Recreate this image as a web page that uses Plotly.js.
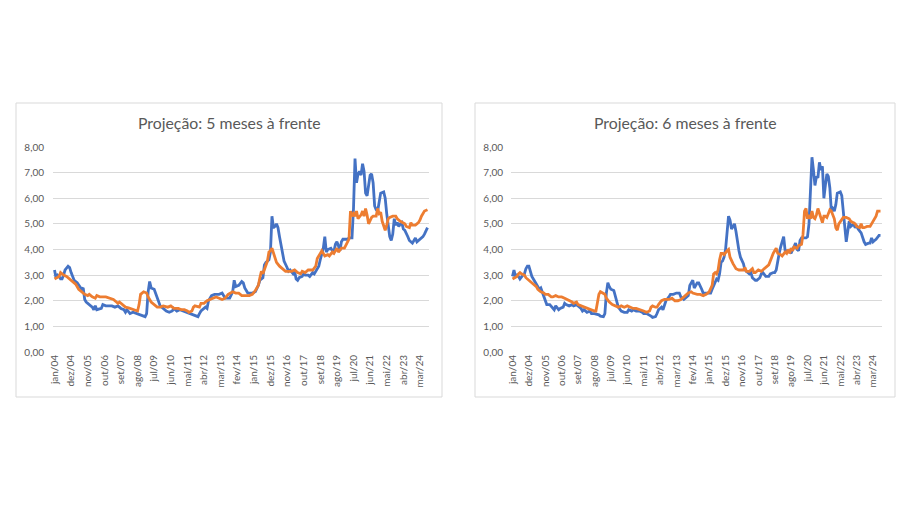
<!DOCTYPE html>
<html>
<head>
<meta charset="utf-8">
<script src="https://cdn.plot.ly/plotly-3.0.1.min.js"></script>
<style>html,body{margin:0;padding:0;background:#fff;}#chart{width:906px;height:509px;}</style>
</head>
<body>
<div id="chart"></div>
<script>
// Month index: 0 = jan/04
const tickMonths = [0,11,22,33,44,55,66,77,88,99,110,121,132,143,154,165,176,187,198,209,220,231,242];
const tickLabels = ["jan/04","dez/04","nov/05","out/06","set/07","ago/08","jul/09","jun/10","mai/11","abr/12","mar/13","fev/14","jan/15","dez/15","nov/16","out/17","set/18","ago/19","jul/20","jun/21","mai/22","abr/23","mar/24"];

// Painel 1: Projeção 5 meses à frente — série azul
const azul5_mes = [0,1,2,3,4,5,6,7,9,10,11,13,15,17,18,19,20,21,23,25,26,27,28,31,32,34,38,40,42,44,46,47,48,50,52,54,56,58,60,61,62,63,64,66,67,69,70,72,74,76,78,79,81,83,85,87,89,91,93,95,96,97,99,100,101,102,104,106,109,111,113,116,118,119,120,122,124,125,126,128,131,133,135,136,138,139,140,142,143,144,145,146,147,148,149,150,151,152,154,155,156,157,158,159,160,161,162,164,165,166,168,169,170,171,172,173,174,175,176,177,178,179,180,181,183,184,185,186,187,188,189,190,191,194,195,197,198,199,200,201,202,203,204,205,206,207,208,209,210,211,212,213,214,215,216,218,219,220,221,222,223,224,225,226,227,228,229,230,231,232,234,235,237,238,239,240,242,244,245,247];
const azul5_val = [3.2,2.9,3.0,2.95,2.85,2.85,3.0,3.2,3.35,3.3,3.1,2.8,2.7,2.5,2.45,2.5,2.05,1.95,1.85,1.75,1.65,1.8,1.65,1.7,1.85,1.8,1.8,1.75,1.8,1.7,1.65,1.55,1.65,1.5,1.55,1.5,1.45,1.4,1.38,1.5,2.35,2.75,2.5,2.45,2.3,1.95,1.8,1.7,1.6,1.55,1.6,1.7,1.6,1.65,1.6,1.55,1.5,1.45,1.42,1.38,1.5,1.6,1.7,1.75,1.7,2.0,2.2,2.25,2.25,2.3,2.1,2.1,2.35,2.8,2.55,2.6,2.75,2.7,2.5,2.3,2.3,2.35,2.6,2.8,2.9,3.4,3.5,3.6,3.9,5.3,4.85,4.9,5.0,4.85,4.5,4.2,3.8,3.55,3.3,3.15,3.2,3.1,3.05,3.15,2.85,2.8,2.9,2.95,3.05,3.0,3.0,2.95,3.05,3.1,3.05,3.15,3.2,3.35,3.6,3.85,4.05,4.5,3.9,4.0,4.05,3.95,3.9,4.2,4.3,4.15,3.95,4.3,4.4,4.4,4.45,4.45,5.6,7.55,6.6,6.95,7.05,6.9,7.35,7.05,6.2,6.1,6.5,6.9,6.95,6.6,5.7,5.55,5.5,5.8,6.2,6.25,6.0,5.4,4.85,4.5,4.35,4.6,5.2,4.95,5.05,4.9,5.0,5.05,4.8,4.75,4.5,4.35,4.25,4.35,4.45,4.3,4.4,4.5,4.6,4.85];

// Painel 1: série laranja
const laranja5_mes = [0,2,3,4,6,8,10,12,14,16,18,20,22,23,25,27,28,30,34,36,39,41,42,43,45,47,49,52,54,55,56,57,58,59,61,62,64,66,68,70,72,75,77,79,82,84,86,88,89,91,92,93,96,97,99,101,103,105,107,109,111,113,115,118,120,122,124,129,131,133,135,136,137,138,139,140,141,142,143,144,145,146,147,149,151,153,157,159,161,163,164,166,168,171,173,174,176,177,179,181,182,184,185,187,188,190,192,193,195,196,197,198,199,200,201,203,204,205,206,207,208,210,211,213,214,215,216,217,219,220,221,222,224,226,227,229,231,232,233,235,236,237,239,241,242,243,245,247];
const laranja5_val = [2.85,2.9,2.95,3.1,3.0,2.95,2.85,2.75,2.65,2.45,2.35,2.25,2.2,2.25,2.15,2.1,2.2,2.15,2.15,2.1,2.05,1.95,1.9,1.95,1.85,1.75,1.72,1.65,1.6,1.6,1.85,2.25,2.3,2.35,2.3,2.15,1.95,1.85,1.75,1.75,1.8,1.75,1.8,1.7,1.7,1.65,1.65,1.6,1.55,1.6,1.75,1.8,1.75,1.9,1.9,2.0,2.05,2.1,2.15,2.1,2.05,2.1,2.25,2.35,2.3,2.3,2.2,2.2,2.25,2.4,2.6,2.9,3.15,3.05,3.25,3.4,3.55,3.9,3.95,4.05,3.85,3.6,3.5,3.35,3.25,3.15,3.15,3.2,3.1,3.05,3.15,3.1,3.2,3.2,3.35,3.65,3.85,3.95,3.75,3.8,3.75,3.9,3.85,4.05,3.9,4.05,4.05,4.15,4.4,5.5,5.3,5.4,5.3,5.5,5.2,5.35,5.5,5.3,5.6,5.35,5.0,5.25,5.3,5.3,5.6,5.4,5.45,5.1,4.75,4.95,5.2,5.25,5.3,5.3,5.2,5.1,5.05,5.0,4.9,4.85,5.05,4.95,4.95,5.05,5.15,5.3,5.5,5.55];

// Painel 2: Projeção 6 meses à frente — série azul
const azul6_mes = [0,1,2,3,4,5,7,8,9,10,11,12,13,15,16,17,18,19,21,22,23,25,27,28,29,31,32,34,35,36,38,40,41,43,44,46,47,48,50,52,53,55,58,59,61,62,63,64,65,66,68,69,70,71,73,75,77,78,80,81,83,85,87,88,90,92,93,94,96,97,98,99,100,101,102,103,105,106,108,110,112,113,115,116,118,119,121,122,123,124,125,126,127,128,131,133,134,135,136,137,138,139,140,141,142,143,145,146,147,148,149,150,151,152,153,155,156,158,159,160,161,163,164,166,167,168,170,172,173,175,176,177,178,179,180,182,183,184,185,187,188,190,191,192,193,194,197,198,199,200,201,202,203,204,205,206,207,208,209,210,211,212,213,214,215,216,217,218,220,221,222,223,224,225,226,227,229,230,231,232,233,234,236,237,239,240,241,242,243,244,246,247];
const azul6_val = [2.95,3.2,2.95,3.0,2.95,2.85,3.0,3.05,3.25,3.35,3.35,3.1,2.95,2.75,2.65,2.5,2.45,2.5,2.15,1.95,1.85,1.85,1.7,1.65,1.8,1.65,1.7,1.75,1.9,1.85,1.8,1.85,1.8,1.85,1.8,1.7,1.6,1.65,1.55,1.6,1.5,1.5,1.45,1.4,1.38,1.5,2.3,2.7,2.55,2.45,2.4,2.2,1.9,1.75,1.6,1.55,1.55,1.65,1.6,1.65,1.6,1.6,1.55,1.5,1.5,1.45,1.4,1.35,1.38,1.5,1.65,1.7,1.75,1.65,1.8,2.0,2.15,2.25,2.25,2.3,2.3,2.15,2.05,2.1,2.2,2.6,2.8,2.5,2.6,2.7,2.7,2.6,2.45,2.3,2.3,2.3,2.45,2.6,2.75,2.85,2.8,3.05,3.5,3.55,3.7,4.0,5.3,5.15,4.8,4.9,5.0,4.7,4.2,3.95,3.7,3.45,3.2,3.1,3.05,3.1,2.9,2.8,2.8,2.9,3.05,3.1,2.95,2.95,3.05,3.1,3.1,3.2,3.6,3.85,4.1,4.5,3.95,3.85,4.0,3.85,4.0,4.25,4.0,3.95,4.35,4.45,4.45,4.5,5.0,6.4,7.6,7.1,6.5,6.85,6.8,7.4,7.1,7.25,6.0,6.5,6.95,6.85,6.4,5.5,5.6,5.5,5.75,6.2,6.25,6.1,5.6,4.9,4.3,4.7,5.1,4.9,5.0,4.85,4.95,4.8,4.7,4.65,4.3,4.2,4.25,4.25,4.45,4.3,4.35,4.4,4.55,4.55];

// Painel 2: série laranja
const laranja6_mes = [0,2,3,4,5,6,8,9,11,13,15,16,17,19,21,22,24,26,27,29,31,33,35,37,40,41,43,44,46,48,51,53,55,56,57,58,59,61,62,63,65,67,69,71,73,75,77,79,81,83,86,88,90,92,93,94,96,97,98,100,102,105,107,109,111,113,116,118,120,121,124,126,128,130,132,134,135,136,137,138,139,140,141,142,144,145,146,147,148,149,150,152,155,156,157,159,161,162,163,165,167,168,170,172,174,175,177,178,180,181,183,184,185,186,187,188,189,191,192,194,195,196,197,198,199,200,201,202,203,204,205,206,207,208,209,210,211,212,213,214,215,216,217,218,219,221,222,224,226,227,229,230,231,233,234,235,236,238,240,241,242,243,244,245,247];
const laranja6_val = [2.85,2.9,2.95,3.05,3.1,3.05,3.0,2.9,2.8,2.7,2.6,2.55,2.45,2.35,2.3,2.25,2.25,2.15,2.15,2.2,2.15,2.15,2.1,2.05,1.95,1.9,1.95,1.85,1.8,1.75,1.7,1.65,1.6,1.6,1.9,2.25,2.35,2.3,2.25,2.1,1.95,1.85,1.8,1.75,1.8,1.75,1.8,1.75,1.7,1.7,1.65,1.6,1.55,1.6,1.75,1.8,1.75,1.75,1.85,2.0,2.05,2.05,2.1,2.0,2.0,2.05,2.2,2.3,2.35,2.3,2.25,2.25,2.2,2.25,2.35,2.6,3.05,3.1,3.05,3.2,3.6,3.85,3.85,3.8,3.95,4.0,3.7,3.55,3.45,3.35,3.25,3.2,3.2,3.3,3.15,3.15,3.25,3.1,3.1,3.2,3.15,3.2,3.3,3.4,3.7,3.85,4.05,3.85,3.8,3.75,3.9,3.85,4.0,3.85,4.05,3.95,4.1,4.05,4.15,4.2,4.6,5.5,5.6,5.2,5.35,5.2,5.5,5.25,5.2,5.35,5.6,5.4,5.2,5.05,5.3,5.3,5.25,5.4,5.55,5.5,5.35,5.2,4.85,4.75,5.0,5.2,5.25,5.25,5.2,5.1,5.05,5.0,4.9,4.85,5.0,4.85,4.85,4.9,4.9,5.0,5.05,5.15,5.3,5.5,5.5];

const titulos = ["Projeção: 5 meses à frente", "Projeção: 6 meses à frente"];

const AZUL = '#4472C4', LARANJA = '#ED7D31';
const W = 906, H = 509;
const px = v => v / W, py = v => 1 - v / H;
const lineW = 2.8;

function tr(x, y, color, ax) {
  return {x: x, y: y, type: 'scatter', mode: 'lines', xaxis: ax[0], yaxis: ax[1],
          line: {color: color, width: lineW, shape: 'linear'}, hoverinfo: 'skip', showlegend: false};
}

const data = [
  tr(azul5_mes, azul5_val, AZUL, ['x','y']),
  tr(laranja5_mes, laranja5_val, LARANJA, ['x','y']),
  tr(azul6_mes, azul6_val, AZUL, ['x2','y2']),
  tr(laranja6_mes, laranja6_val, LARANJA, ['x2','y2'])
];

const tickFont = {family: 'Lato, "Open Sans", sans-serif', size: 10, color: '#595959'};
function xax(d, anchor) {
  return {domain: d, anchor: anchor, range: [-1, 248], tickmode: 'array', tickvals: tickMonths, ticktext: tickLabels,
          tickangle: -90, showgrid: false, zeroline: false, showline: false, ticks: '', tickfont: tickFont, fixedrange: true};
}
function yax(anchor, standoff) {
  return {domain: [py(352), py(147)], anchor: anchor, range: [0, 8], dtick: 1, tick0: 0, tickformat: '.2f',
          showgrid: true, gridcolor: '#d9d9d9', gridwidth: 1, zeroline: false, showline: false, ticks: '',
          tickfont: tickFont, ticklabelstandoff: standoff, fixedrange: true};
}

const layout = {
  width: W, height: H, margin: {l: 0, r: 0, t: 0, b: 0},
  paper_bgcolor: '#ffffff', plot_bgcolor: 'rgba(0,0,0,0)',
  separators: ',.',
  showlegend: false,
  xaxis: xax([px(53), px(429)], 'y'),
  yaxis: yax('x', 8),
  xaxis2: xax([px(511), px(882)], 'y2'),
  yaxis2: yax('x2', 7),
  shapes: [
    {type: 'rect', xref: 'paper', yref: 'paper', x0: px(16), x1: px(442), y0: py(397), y1: py(103), line: {color: '#d9d9d9', width: 1}, layer: 'below'},
    {type: 'rect', xref: 'paper', yref: 'paper', x0: px(475), x1: px(895), y0: py(397), y1: py(103), line: {color: '#d9d9d9', width: 1}, layer: 'below'}
  ],
  annotations: [
    {text: titulos[0], xref: 'paper', yref: 'paper', x: px(229), y: py(123), xanchor: 'center', yanchor: 'middle', showarrow: false,
     font: {family: 'Lato, "Open Sans", sans-serif', size: 15.8, color: '#595959'}},
    {text: titulos[1], xref: 'paper', yref: 'paper', x: px(685), y: py(123), xanchor: 'center', yanchor: 'middle', showarrow: false,
     font: {family: 'Lato, "Open Sans", sans-serif', size: 15.8, color: '#595959'}}
  ]
};

Plotly.newPlot('chart', data, layout, {staticPlot: true, displayModeBar: false});
</script>
</body>
</html>
